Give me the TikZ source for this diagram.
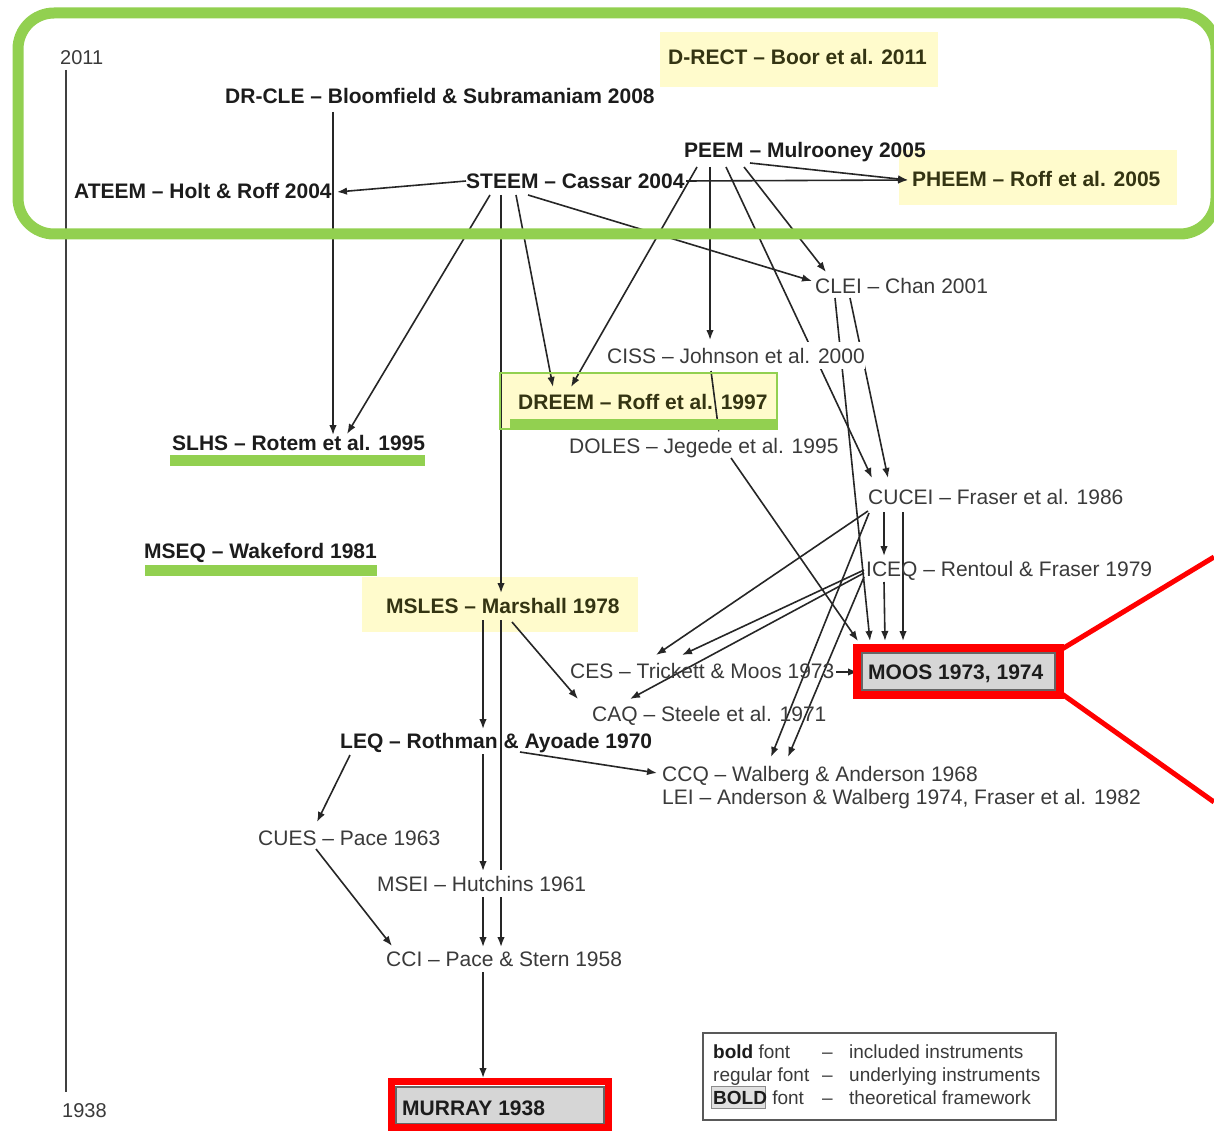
\documentclass[tikz,border=0pt]{standalone}
\usepackage{fontspec}
\setmainfont{Liberation Sans}
\usetikzlibrary{arrows.meta}
\pgfdeclarelayer{bgA}\pgfdeclarelayer{bgB}\pgfdeclarelayer{fg}
\pgfsetlayers{bgA,bgB,main,fg}
\definecolor{hlyellow}{RGB}{255,251,204}
\definecolor{hlgreen}{RGB}{146,208,80}
\definecolor{txtbold}{RGB}{28,28,28}
\definecolor{txtreg}{RGB}{58,58,58}
\definecolor{txtolive}{RGB}{52,52,18}
\definecolor{boxgray}{RGB}{214,214,214}
\definecolor{hlred}{RGB}{255,0,0}
\newcommand{\rel}[3]{([xshift=#2pt,yshift={-(#3)*1pt}]#1.base west)}
\tikzset{
  lbl/.style={anchor=base west, inner sep=0pt},
  reg/.style={lbl, text=txtreg, font=\fontsize{21}{25}\selectfont},
  bld/.style={lbl, text=txtbold, font=\fontsize{21}{25}\selectfont\bfseries},
  olv/.style={bld, text=txtolive},
  yr/.style={lbl, text=txtreg, font=\fontsize{20}{24}\selectfont},
  lgd/.style={lbl, text=txtreg, font=\fontsize{19}{22}\selectfont},
  wfill/.style={fill=white, inner ysep=6pt},
  conn/.style={line width=1.6pt, draw=black!85, -{Latex[length=10pt,width=7.5pt]}},
  plainline/.style={line width=1.5pt, draw=black!75},
  yellowbox/.style={fill=hlyellow, draw=none},
  greenbar/.style={fill=hlgreen, draw=none},
  redframe/.style={draw=hlred, line width=8pt},
  graybox/.style={fill=boxgray, draw=black!60, line width=1.5pt},
}
\begin{document}
\begin{tikzpicture}[x=1pt,y=-1pt]
\useasboundingbox (0,0) rectangle (1214,1131);

% ---------- nodes ----------
\node[yr] (y2011) at (60,65) {2011};
\node[yr] (y1938) at (62,1117) {1938};
\node[olv] (drect) at (668,65) {D-RECT – Boor et al. 2011};
\node[bld] (drcle) at (225,104) {DR-CLE – Bloomfield \& Subramaniam 2008};
\node[bld] (peem) at (684,158) {PEEM – Mulrooney 2005};
\node[bld] (steem) at (466,189) {STEEM – Cassar 2004};
\node[bld] (ateem) at (74,199) {ATEEM – Holt \& Roff 2004};
\node[olv] (pheem) at (912,187) {PHEEM – Roff et al. 2005};
\node[reg] (clei) at (815,294) {CLEI – Chan 2001};
\node[reg,wfill] (ciss) at (607,363) {CISS – Johnson et al. 2000};
\node[olv] (dreem) at (518,409) {DREEM – Roff et al. 1997};
\node[reg] (doles) at (569,453) {DOLES – Jegede et al. 1995};
\node[bld] (slhs) at (172,450) {SLHS – Rotem et al. 1995};
\node[reg] (cucei) at (868,504) {CUCEI – Fraser et al. 1986};
\node[bld] (mseq) at (144,558) {MSEQ – Wakeford 1981};
\node[reg] (iceq) at (866,576) {ICEQ – Rentoul \& Fraser 1979};
\node[olv] (msles) at (386,613) {MSLES – Marshall 1978};
\node[reg] (ces) at (570,678) {CES – Trickett \& Moos 1973};
\node[bld] (moos) at (868,679) {MOOS 1973, 1974};
\node[reg] (caq) at (592,721) {CAQ – Steele et al. 1971};
\node[bld] (leq) at (340,748) {LEQ – Rothman \& Ayoade 1970};
\node[reg] (ccq) at (662,781) {CCQ – Walberg \& Anderson 1968};
\node[reg] (lei) at (662,804) {LEI – Anderson \& Walberg 1974, Fraser et al. 1982};
\node[reg] (cues) at (258,845) {CUES – Pace 1963};
\node[reg,wfill] (msei) at (377,891) {MSEI – Hutchins 1961};
\node[reg] (cci) at (386,966) {CCI – Pace \& Stern 1958};
\node[bld] (murray) at (402,1115) {MURRAY 1938};

% legend
\node[lgd] (l1a) at (713,1058) {\textbf{\color{txtbold}bold} font};
\node[lgd] (l1b) at (822,1058) {–};
\node[lgd] (l1c) at (849,1058) {included instruments};
\node[lgd] (l2a) at (713,1081) {regular font};
\node[lgd] (l2b) at (822,1081) {–};
\node[lgd] (l2c) at (849,1081) {underlying instruments};
\node[lgd] (l3a) at (713,1104) {\textbf{\color{txtbold}BOLD} font};
\node[lgd] (l3b) at (822,1104) {–};
\node[lgd] (l3c) at (849,1104) {theoretical framework};

% ---------- backgrounds ----------
\begin{pgfonlayer}{bgA}
  \fill[white] (0,0) rectangle (1214,1131);
  \fill[yellowbox] (660,32) rectangle (938,87);
  \fill[yellowbox] (899,150) rectangle (1177,205);
  \fill[yellowbox] (500,373) rectangle (777,429);
  \fill[yellowbox] (362,577) rectangle (638,632);
  \draw[graybox] (862,653) rectangle (1055,690);
  \draw[graybox] (396,1087) rectangle (604,1124);
  \draw[fill=black!12, draw=black!45, line width=1pt] (711,1086) rectangle (765,1108);
  \draw[draw=black!65, line width=1.8pt] (703,1033) rectangle (1056,1120);
\end{pgfonlayer}

% ---------- connectors ----------
\begin{pgfonlayer}{bgB}
  \draw[plainline] \rel{y2011}{6}{5} -- \rel{y1938}{4}{-25};
  \draw[conn] \rel{steem}{0}{-8} -- \rel{ateem}{263}{-7};
  \draw[conn] \rel{drcle}{108}{8} -- \rel{slhs}{161}{-15};
  \draw[conn] \rel{steem}{24}{6} -- \rel{slhs}{175}{-16};
  \draw[conn] \rel{steem}{35}{6} -- \rel{msles}{115}{-20};
  \draw[conn] \rel{steem}{50}{6} -- \rel{dreem}{35}{-22};
  \draw[conn] \rel{steem}{62}{6} -- \rel{clei}{-3}{-13};
  \draw[conn] \rel{steem}{220}{-8} -- \rel{pheem}{-4}{-7};
  \draw[conn] \rel{peem}{66}{5} -- \rel{pheem}{-4}{-7};
  \draw[conn] \rel{peem}{13}{9} -- \rel{dreem}{53}{-22};
  \draw[conn] \rel{peem}{26}{9} -- \rel{ciss}{103}{-23};
  \draw[conn] \rel{peem}{42}{9} -- \rel{cucei}{4}{-26};
  \draw[conn] \rel{peem}{60}{9} -- \rel{clei}{11}{-22};
  \draw[conn] \rel{clei}{35}{4} -- \rel{cucei}{20}{-26};
  \draw[conn] \rel{clei}{20}{4} -- \rel{moos}{2}{-38};
  \draw[conn] \rel{ciss}{104}{8} -- \rel{doles}{150}{-20};
  \draw[conn] \rel{doles}{162}{5} -- \rel{moos}{-10}{-38};
  \draw[conn] \rel{cucei}{16}{8} -- \rel{iceq}{18}{-20};
  \draw[conn] \rel{cucei}{35}{8} -- \rel{moos}{35}{-38};
  \draw[conn] \rel{iceq}{18}{6} -- \rel{moos}{17}{-38};
  \draw[conn] \rel{cucei}{0}{7} -- \rel{ces}{86}{-23};
  \draw[conn] \rel{iceq}{-2}{-6} -- \rel{ces}{112}{-23};
  \draw[conn] \rel{iceq}{-2}{-3} -- \rel{caq}{38}{-22};
  \draw[conn] \rel{cucei}{1}{9} -- \rel{ccq}{109}{-24};
  \draw[conn] \rel{iceq}{-2}{1} -- \rel{ccq}{126}{-24};
  \draw[conn] \rel{ces}{266}{-6} -- \rel{moos}{-10}{-7};
  \draw[conn] \rel{msles}{97}{7} -- \rel{leq}{143}{-19};
  \draw[conn] \rel{msles}{115}{7} -- \rel{cci}{115}{-19};
  \draw[conn] \rel{msles}{126}{9} -- \rel{caq}{-14}{-22};
  \draw[conn] \rel{leq}{10}{7} -- \rel{cues}{59}{-23};
  \draw[conn] \rel{leq}{180}{4} -- \rel{ccq}{-5}{-8};
  \draw[conn] \rel{leq}{143}{6} -- \rel{msei}{106}{-20};
  \draw[conn] \rel{msei}{106}{6} -- \rel{cci}{97}{-19};
  \draw[conn] \rel{cues}{58}{4} -- \rel{cci}{6}{-20};
  \draw[conn] \rel{cci}{97}{6} -- \rel{murray}{81}{-37};
\end{pgfonlayer}

% ---------- highlights on top ----------
\begin{pgfonlayer}{fg}
  \draw[hlgreen, line width=11pt, rounded corners=36pt] (18,13) rectangle (1216,234);
  \fill[greenbar] (170,455) rectangle (425,466);
  \fill[greenbar] (145,565) rectangle (377,576);
  \fill[greenbar] (510,419) rectangle (777,429);
  \draw[hlgreen, line width=2pt] (500,373) rectangle (777,429);
  \draw[redframe] (857,647.5) rectangle (1060,695);
  \draw[redframe, line width=7pt] (391.5,1081.5) rectangle (608.5,1127.5);
  \draw[hlred, line width=5pt] (1062,649) -- (1214,557);
  \draw[hlred, line width=5pt] (1062,694) -- (1214,802);
\end{pgfonlayer}
\end{tikzpicture}
\end{document}
